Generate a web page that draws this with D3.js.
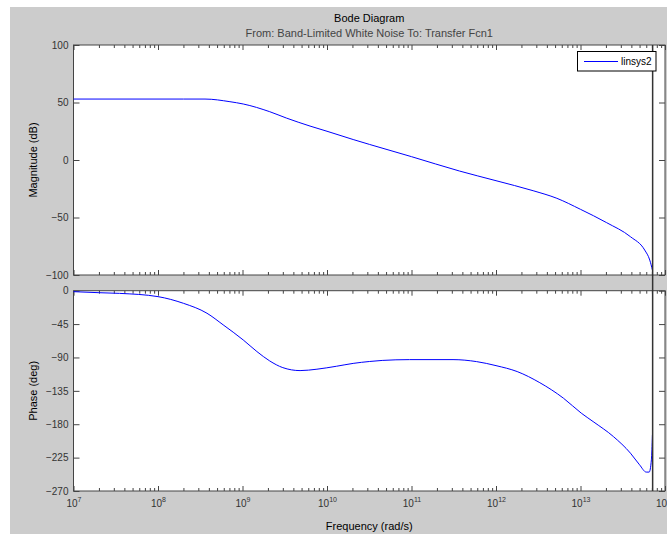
<!DOCTYPE html>
<html lang="en">
<head>
<meta charset="UTF-8">
<script src="https://cdn.jsdelivr.net/npm/d3@7.8.5/dist/d3.min.js"></script>
<title>Bode Diagram</title>
<style>
  body { margin: 0; background: #fff; }
  svg text { font-family: "Liberation Sans", Arial, sans-serif; }
  .tick line { stroke: #444; }
  .tick text { fill: #333; font-size: 10px; }
</style>
</head>
<body>
<svg width="667" height="534"></svg>
<script>
// frequency in rad/s, magnitude in dB, phase in degrees
var magFreq = [1e7, 1e8, 2e8, 3.6e8, 7.1e8, 1.02e9, 2.1e9, 3.3e9, 6.3e9, 1e10, 2.04e10, 3.2e10,
               1e11, 3.7e11, 1e12, 2.75e12, 5.25e12, 1e13, 2.04e13, 3.9e13, 5.75e13, 6.6e13, 7.1e13];
var magDb = [53.0, 53.0, 53.0, 53.0, 50.7, 48.7, 42.0, 36.5, 29.5, 25.0, 17.8, 13.5,
             2.9, -9.6, -18.0, -26.7, -33.3, -42.9, -54.5, -66.7, -78.3, -87, -95.7];

var phaseFreq = [1e7, 2e7, 3.5e7, 1e8, 2e8, 3.8e8, 5.9e8, 1.02e9, 1.48e9, 2.1e9, 3e9, 4.8e9, 7.6e9,
                 1.3e10, 2.04e10, 3.2e10, 4.5e10, 9.5e10, 3.1e11, 5.9e11, 1e12, 1.78e12, 3.3e12,
                 6.3e12, 1.02e13, 1.41e13, 2.45e13, 3.9e13, 5e13, 6e13, 6.5e13, 6.9e13, 7.1e13];
var phaseDeg = [-1.3, -2.7, -3.6, -8, -17, -30.4, -46, -66.4, -82, -94.7, -103.7, -107.7, -105.8,
                -101.8, -98, -95.4, -94, -92.9, -92.9, -95.6, -101, -109, -124,
                -145, -165, -176.4, -196.6, -219, -234.7, -244.5, -244.5, -228, -194.4];

var nyquistFreq = 7.14e13;
var decades = [1e7, 1e8, 1e9, 1e10, 1e11, 1e12, 1e13, 1e14];
var magTicks = [100, 50, 0, -50, -100];
var phaseTicks = [0, -45, -90, -135, -180, -225, -270];
var seriesName = "linsys2";

var svg = d3.select("svg");
var left = 73.5, right = 665;
var magTop = 45, magBottom = 275;
var phTop = 290.7, phBottom = 491;

// figure background
svg.append("rect").attr("x", 10).attr("y", 7).attr("width", 657).attr("height", 527).attr("fill", "#cccccc");

var x = d3.scaleLog().domain([1e7, 1e14]).range([left, right]);
var yMag = d3.scaleLinear().domain([-100, 100]).range([magBottom, magTop]);
var yPh = d3.scaleLinear().domain([-270, 0]).range([phBottom, phTop]);

var minors = [];
decades.slice(0, -1).forEach(function(d) {
  for (var k = 2; k <= 9; k++) minors.push(d * k);
});

function drawAxes(y, ticks, top, bottom, showXLabels) {
  var g = svg.append("g");
  g.append("rect").attr("x", left).attr("y", top).attr("width", right - left).attr("height", bottom - top)
    .attr("fill", "#fff");

  // y ticks left and right, pointing inwards
  g.append("g").attr("transform", "translate(" + left + ",0)")
    .call(d3.axisLeft(y).tickValues(ticks).tickSize(-6).tickPadding(5).tickSizeOuter(0));
  g.append("g").attr("transform", "translate(" + right + ",0)")
    .call(d3.axisRight(y).tickValues(ticks).tickSize(-6).tickSizeOuter(0).tickFormat(""));

  // x ticks top and bottom (major + minor)
  [[bottom, d3.axisBottom], [top, d3.axisTop]].forEach(function(p) {
    g.append("g").attr("transform", "translate(0," + p[0] + ")")
      .call(p[1](x).tickValues(minors).tickSize(-3).tickSizeOuter(0).tickFormat(""));
    var maj = g.append("g").attr("class", "major").attr("transform", "translate(0," + p[0] + ")")
      .call(p[1](x).tickValues(decades).tickSize(-5).tickSizeOuter(0).tickPadding(9)
        .tickFormat(function(d) { return (p[0] === bottom && showXLabels) ? "10" : ""; }));
    if (p[0] === bottom && showXLabels) {
      maj.selectAll(".tick text").each(function(d) {
        var t = d3.select(this);
        t.text("").attr("text-anchor", "middle");
        t.append("tspan").text("10");
        t.append("tspan").attr("dy", "-5").attr("font-size", "7px").text(Math.round(Math.log10(d)));
      });
    }
  });
  g.selectAll(".domain").remove();

  g.append("rect").attr("x", left).attr("y", top).attr("width", right - left).attr("height", bottom - top)
    .attr("fill", "none").attr("stroke", "#444").attr("stroke-width", 1);
  return g;
}

var gMag = drawAxes(yMag, magTicks, magTop, magBottom, false);
var gPh = drawAxes(yPh, phaseTicks, phTop, phBottom, true);

var magLine = d3.line().x(function(d, i) { return x(magFreq[i]); }).y(function(d) { return yMag(d); })
  .curve(d3.curveMonotoneX);
var phLine = d3.line().x(function(d, i) { return x(phaseFreq[i]); }).y(function(d) { return yPh(d); })
  .curve(d3.curveMonotoneX);

gMag.append("path").attr("d", magLine(magDb)).attr("fill", "none").attr("stroke", "#0000ff").attr("stroke-width", 1);
gPh.append("path").attr("d", phLine(phaseDeg)).attr("fill", "none").attr("stroke", "#0000ff").attr("stroke-width", 1);

// nyquist frequency line
svg.append("line").attr("x1", x(nyquistFreq)).attr("x2", x(nyquistFreq))
  .attr("y1", magTop).attr("y2", phBottom).attr("stroke", "#333").attr("stroke-width", 1.5);

// legend
var lg = svg.append("g");
lg.append("rect").attr("x", 577.5).attr("y", 51.5).attr("width", 78.5).attr("height", 19.5)
  .attr("fill", "#fff").attr("stroke", "#000").attr("stroke-width", 1);
lg.append("line").attr("x1", 584).attr("x2", 618).attr("y1", 61.5).attr("y2", 61.5)
  .attr("stroke", "#0000ff").attr("stroke-width", 1);
lg.append("text").attr("x", 621).attr("y", 65).attr("font-size", "10px").attr("fill", "#000").text(seriesName);

// titles and labels
svg.append("text").attr("x", (left + right) / 2).attr("y", 22).attr("text-anchor", "middle")
  .attr("font-size", "11px").attr("fill", "#000").text("Bode Diagram");
svg.append("text").attr("x", (left + right) / 2).attr("y", 37).attr("text-anchor", "middle")
  .attr("font-size", "11px").attr("fill", "#444").text("From: Band-Limited White Noise  To: Transfer Fcn1");
svg.append("text").attr("x", (left + right) / 2).attr("y", 530).attr("text-anchor", "middle")
  .attr("font-size", "11px").attr("fill", "#000").text("Frequency (rad/s)");
svg.append("text").attr("transform", "translate(37," + (magTop + magBottom) / 2 + ") rotate(-90)")
  .attr("text-anchor", "middle").attr("font-size", "11px").attr("fill", "#000").text("Magnitude (dB)");
svg.append("text").attr("transform", "translate(37," + (phTop + phBottom) / 2 + ") rotate(-90)")
  .attr("text-anchor", "middle").attr("font-size", "11px").attr("fill", "#000").text("Phase (deg)");
</script>
</body>
</html>
